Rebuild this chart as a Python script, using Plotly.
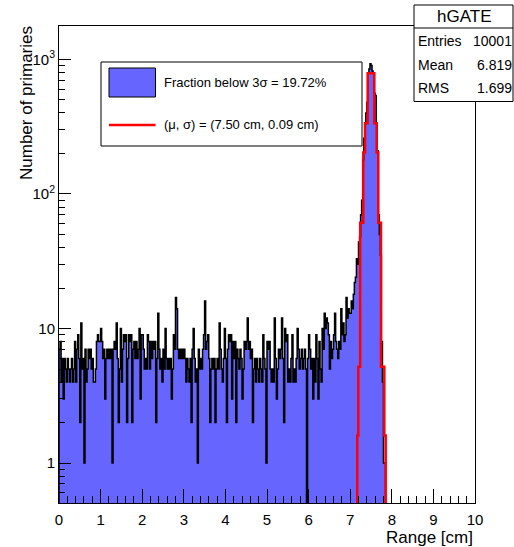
import plotly.graph_objects as go

# ---------------- data ----------------
bin_width = 0.025          # cm, 400 bins over 0-10 cm
x_min, x_max = 0.0, 10.0

counts_0_1 = [7, 8, 4, 6, 3, 6, 5, 4, 6, 5,
              4, 5, 6, 4, 5, 8, 4, 7, 9, 6,
              2, 11, 5, 6, 1, 7, 4, 5, 7, 6,
              7, 5, 6, 4, 4, 5, 8, 9, 8, 8]
counts_1_2 = [10, 8, 6, 7, 3, 6, 7, 6, 7, 6,
              7, 1, 7, 8, 7, 11, 6, 2, 5, 10,
              4, 7, 9, 8, 9, 2, 6, 9, 8, 9,
              2, 7, 8, 6, 8, 6, 7, 10, 3, 9]
counts_2_3 = [9, 7, 5, 6, 5, 9, 8, 5, 8, 6,
              8, 7, 8, 2, 6, 13, 7, 5, 6, 4,
              7, 5, 10, 6, 5, 6, 5, 6, 3, 5,
              9, 7, 17, 14, 7, 6, 7, 6, 7, 6]
counts_3_4 = [7, 6, 4, 6, 5, 4, 6, 2, 7, 10,
              6, 4, 5, 1, 7, 5, 6, 5, 7, 9,
              16, 7, 8, 9, 6, 2, 5, 6, 5, 6,
              2, 5, 6, 5, 11, 7, 5, 4, 6, 10]
counts_4_5 = [6, 2, 7, 9, 8, 9, 3, 8, 6, 8,
              2, 7, 6, 5, 7, 6, 3, 5, 8, 7,
              8, 12, 7, 8, 6, 7, 2, 5, 6, 4,
              6, 5, 4, 6, 5, 4, 9, 6, 5, 1]
counts_5_6 = [8, 7, 8, 5, 4, 5, 4, 12, 6, 3,
              5, 7, 6, 7, 12, 6, 2, 10, 8, 9,
              4, 5, 4, 6, 9, 4, 5, 4, 6, 10,
              7, 5, 6, 7, 5, 6, 7, 5, 0, 6]
counts_6_7 = [9, 7, 5, 6, 3, 6, 4, 9, 6, 3,
              8, 5, 4, 10, 7, 13, 10, 12, 11, 9,
              5, 8, 6, 7, 9, 13, 8, 7, 6, 8,
              7, 14, 9, 11, 8, 9, 17, 12, 14, 13]
counts_7_end = [13, 16, 14, 18, 22, 24, 33, 30, 44, 48,
                70, 90, 180, 260, 330, 400, 480, 790, 850, 930,
                900, 820, 790, 560, 540, 330, 210, 70, 50, 35,
                8, 4, 1, 1]
# bins beyond 7.85 cm are empty

# Gaussian fit, as drawn (step edges in cm and levels)
fit_edges = [7.17, 7.195, 7.24, 7.315, 7.356, 7.42, 7.58, 7.637, 7.675, 7.74, 7.82, 7.853]
fit_levels = [1.6, 5.2, 61, 203, 335, 791, 335, 203, 61, 5.2, 1.6]

x_ticks = [0, 1, 2, 3, 4, 5, 6, 7, 8, 9, 10]
y_ticks = [1, 10, 100, 1000]
y_ticktext = ["1", "10", "10<sup>2</sup>", "10<sup>3</sup>"]

legend_fraction = "Fraction below 3σ = 19.72%"
legend_fit = "(μ, σ) = (7.50 cm, 0.09 cm)"
stats_title = "hGATE"
stats_rows = [("Entries", "10001"), ("Mean", "6.819"), ("RMS", "1.699")]

# ---------------- build ----------------
counts = (counts_0_1 + counts_1_2 + counts_2_3 + counts_3_4 + counts_4_5
          + counts_5_6 + counts_6_7 + counts_7_end)
floor = 0.05  # below the visible log range: empty bins are drawn down to the axis
lefts = [round(i * bin_width, 6) for i in range(len(counts))]
right_end = len(counts) * bin_width
hx = [x_min] + lefts + [right_end, x_max]
hy = [floor] + [c if c > 0 else floor for c in counts] + [floor, floor]

fx = [fit_edges[0]] + fit_edges
fy = [floor] + fit_levels + [floor]

FONT = "Liberation Sans, Arial, Helvetica, sans-serif"
BLUE = "rgb(102,102,255)"

fig = go.Figure()
fig.add_trace(go.Scatter(x=hx, y=hy, mode="lines", line_shape="hv",
                         line=dict(color="black", width=1.5),
                         fill="toself", fillcolor=BLUE, hoverinfo="skip",
                         showlegend=False))
fig.add_trace(go.Scatter(x=fx, y=fy, mode="lines", line_shape="hv",
                         line=dict(color="red", width=2.5),
                         hoverinfo="skip", showlegend=False))

W, H = 514, 547
L, R, T, B = 59, 39, 26, 44
pw, ph = W - L - R, H - T - B


def px(xp):
    return (xp - L) / pw


def py(yp):
    return (H - B - yp) / ph


minor_y = [m * 10 ** d for d in range(-1, 4) for m in range(2, 10)]
minor_y = [v for v in minor_y if 0.5 <= v <= 1800]

fig.update_layout(
    width=W, height=H,
    margin=dict(l=L, r=R, t=T, b=B),
    paper_bgcolor="white", plot_bgcolor="white",
    font=dict(family=FONT, size=15, color="black"),
    showlegend=False,
    xaxis=dict(range=[x_min, x_max], tickvals=x_ticks, ticks="inside", ticklen=14,
               tickcolor="black", showline=True, linecolor="black", linewidth=1,
               mirror=True, showgrid=False, zeroline=False,
               tickfont=dict(size=15), ticklabelstandoff=3,
               minor=dict(ticks="inside", ticklen=7, dtick=0.2, tick0=0,
                          tickcolor="black", showgrid=False)),
    yaxis=dict(type="log", range=[-0.2967, 3.2485], tickvals=y_ticks, ticktext=y_ticktext,
               ticks="inside", ticklen=12, tickcolor="black", showline=True,
               linecolor="black", linewidth=1, mirror=True, showgrid=False,
               zeroline=False, tickfont=dict(size=15),
               minor=dict(ticks="inside", ticklen=6, tickvals=minor_y,
                          tickcolor="black", showgrid=False)),
)

shapes = []
annotations = []
# axis titles (ROOT style: right/top aligned)
annotations.append(dict(text="Number of primaries", xref="paper", yref="paper",
                        x=px(27), y=py(24), xanchor="center", yanchor="top",
                        textangle=-90, showarrow=False, font=dict(size=17)))
annotations.append(dict(text="Range [cm]", xref="paper", yref="paper",
                        x=px(475), y=py(537), xanchor="right", yanchor="middle",
                        showarrow=False, font=dict(size=17)))

# legend box
shapes.append(dict(type="rect", xref="paper", yref="paper", x0=px(101), x1=px(362),
                   y0=py(146), y1=py(62), line=dict(color="black", width=1),
                   fillcolor="white", layer="above"))
shapes.append(dict(type="rect", xref="paper", yref="paper", x0=px(109), x1=px(155.5),
                   y0=py(97), y1=py(68), line=dict(color="black", width=1),
                   fillcolor=BLUE, layer="above"))
shapes.append(dict(type="line", xref="paper", yref="paper", x0=px(109), x1=px(155.5),
                   y0=py(125), y1=py(125), line=dict(color="red", width=2.5),
                   layer="above"))
annotations.append(dict(text=legend_fraction, xref="paper", yref="paper", x=px(162),
                        y=py(83), xanchor="left", yanchor="middle", showarrow=False,
                        font=dict(size=13)))
annotations.append(dict(text=legend_fit, xref="paper", yref="paper", x=px(162),
                        y=py(125), xanchor="left", yanchor="middle", showarrow=False,
                        font=dict(size=13)))

# stats box
shapes.append(dict(type="rect", xref="paper", yref="paper", x0=px(414), x1=px(513),
                   y0=py(101.5), y1=py(5), line=dict(color="black", width=1),
                   fillcolor="white", layer="above"))
shapes.append(dict(type="line", xref="paper", yref="paper", x0=px(414), x1=px(513),
                   y0=py(28), y1=py(28), line=dict(color="black", width=1),
                   layer="above"))
annotations.append(dict(text=stats_title, xref="paper", yref="paper", x=px(463.5),
                        y=py(16.5), xanchor="center", yanchor="middle", showarrow=False,
                        font=dict(size=17)))
row_y = [41, 64.5, 88]
for (lab, val), yy in zip(stats_rows, row_y):
    annotations.append(dict(text=lab, xref="paper", yref="paper", x=px(415.5), y=py(yy),
                            xanchor="left", yanchor="middle", showarrow=False,
                            font=dict(size=14)))
    annotations.append(dict(text=val, xref="paper", yref="paper", x=px(513.5), y=py(yy),
                            xanchor="right", yanchor="middle", showarrow=False,
                            font=dict(size=14)))

fig.update_layout(shapes=shapes, annotations=annotations)
fig.write_html("out.html", config={"displayModeBar": False},
               post_script="document.body.style.margin='0px';")
